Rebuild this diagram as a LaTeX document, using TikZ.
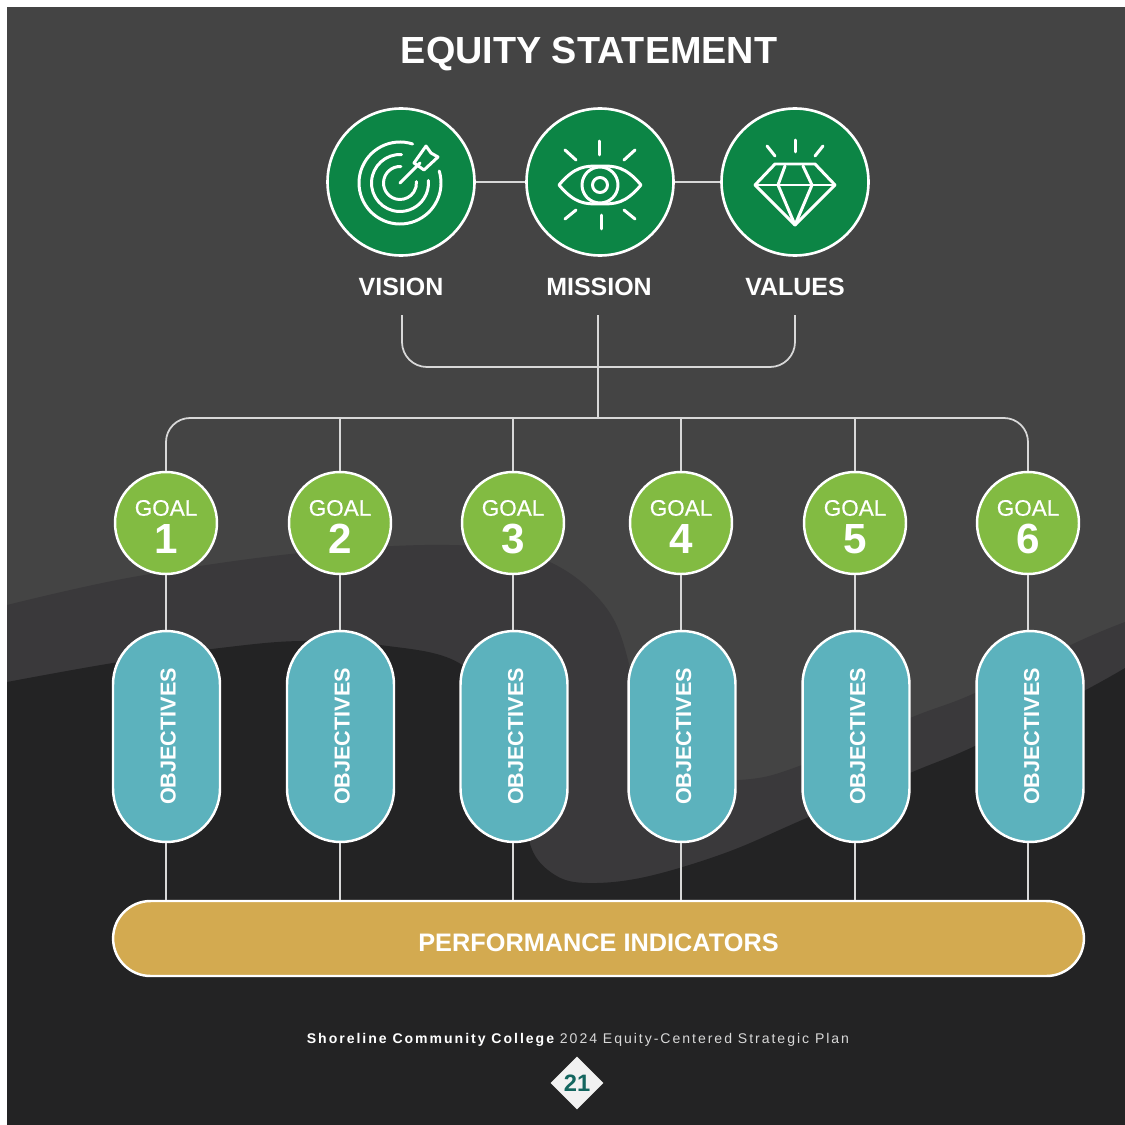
\documentclass[tikz,border=0pt]{standalone}
\usepackage{fontspec}
\setmainfont{Liberation Sans}
\newfontfamily\footfont[LetterSpace=14]{Liberation Sans}
\newfontfamily\goalfont[FakeBold=0.5]{Liberation Sans}
\usetikzlibrary{positioning, shapes.geometric, shapes.misc, calc}
\definecolor{panelgrey}{HTML}{444444}
\definecolor{midgrey}{HTML}{3A393B}
\definecolor{darkgrey}{HTML}{232324}
\definecolor{mygreen}{HTML}{0C8545}
\definecolor{mylime}{HTML}{82BB42}
\definecolor{myteal}{HTML}{5CB2BD}
\definecolor{mygold}{HTML}{D3AA50}
\definecolor{myink}{HTML}{14665F}
\definecolor{myline}{HTML}{D8D8D8}
\tikzset{
    topic/.style={circle,draw=white,line width=1.5pt,fill=mygreen,minimum size=2.94cm,inner sep=0pt},
    toplabel/.style={text=white,font=\fontsize{14.2}{16}\bfseries\selectfont},
    goalnode/.style={circle,draw=white,line width=1.4pt,fill=mylime,minimum size=2.04cm,inner sep=0pt},
    goalword/.style={text=white,font=\goalfont\fontsize{12.8}{14}\selectfont},
    goalnum/.style={text=white,font=\fontsize{24}{26}\bfseries\selectfont},
    objnode/.style={rounded rectangle,rotate=90,draw=white,line width=1.4pt,fill=myteal,minimum width=4.22cm,minimum height=2.14cm,inner sep=0pt,text height=10.5pt,text depth=0pt,text=white,font=\fontsize{12.3}{14}\bfseries\selectfont},
    link/.style={myline,line width=1pt},
    icon/.style={white,line width=1.7pt,line cap=round,line join=round},
}
\begin{document}
\begin{tikzpicture}[x=0.02cm,y=-0.02cm]
    \useasboundingbox (0,0) rectangle (1125,1125);
    \fill[white] (0,0) rectangle (1125,1125);
    \fill[panelgrey] (7,7) rectangle (1125,1125);
    % background swooshes
    \fill[midgrey] plot[smooth,tension=0.6] coordinates {(7,605) (133,577) (300,553) (450,545) (540,558) (600,600) (628,660) (645,775) (739,780) (802,765) (910,718) (975,693) (1075,643) (1125,622)} -- (1125,800) -- (600,900) -- (7,800) -- cycle;
    \fill[darkgrey] plot[smooth,tension=0.6] coordinates {(7,682) (113,663) (220,648) (300,641) (380,645) (459,663) (505,720) (525,790) (531,847) (555,875) (588,883) (645,877) (725,853) (802,820) (910,773) (975,746) (1080,693) (1125,668)} -- (1125,1125) -- (7,1125) -- cycle;
    % title
    \node (title) at (589,54) {\textcolor{white}{\fontsize{21.5}{24}\bfseries\selectfont EQUITY STATEMENT}};
    % top row
    \node[topic] (vision) at (401,182) {};
    \node[topic] (mission) at (600,182) {};
    \node[topic] (values) at (795,182) {};
    \draw[link] (vision) -- (mission);
    \draw[link] (mission) -- (values);
    \node[toplabel] (visionlabel) at (401,287) {VISION};
    \node[toplabel] (missionlabel) at (599,287) {MISSION};
    \node[toplabel] (valueslabel) at (795,287) {VALUES};
    % target icon
    \draw[icon] (400,183)+(-72:41) arc[start angle=-72,end angle=-377,radius=41];
    \draw[icon] (400,183)+(-87:28.5) arc[start angle=-87,end angle=-365,radius=28.5];
    \draw[icon] (400,183)+(-87:16.5) arc[start angle=-87,end angle=-365,radius=16.5];
    \draw[icon] (400,183) -- (420,163);
    \draw[icon] (414,163) -- (426,146) -- (431,153) -- (438,157) -- (424,170) -- cycle;
    % eye icon
    \draw[icon] (559,185) .. controls (575,166) and (585,166) .. (600,166) .. controls (615,166) and (625,166) .. (641,185) .. controls (625,204) and (615,204) .. (600,204) .. controls (585,204) and (575,204) .. (559,185) -- cycle;
    \draw[icon] (600,185) circle[radius=18];
    \draw[icon] (600,185) circle[radius=7.5];
    \draw[icon] (599,141) -- (599,155);
    \draw[icon] (601,215) -- (601,229);
    \draw[icon] (565,150) -- (576,160);
    \draw[icon] (635,150) -- (624,160);
    \draw[icon] (565,219) -- (576,210);
    \draw[icon] (635,219) -- (624,210);
    % gem icon
    \draw[icon] (755,185) -- (775,164) -- (815,164) -- (835,185) -- (795,225) -- cycle;
    \draw[icon] (755,185) -- (835,185);
    \draw[icon] (785,166) -- (778,185) -- (795,225) -- (812,185) -- (803,166);
    \draw[icon] (795,140) -- (795,152);
    \draw[icon] (767,146) -- (775,156);
    \draw[icon] (823,146) -- (815,156);
    % bracket and bus
    \coordinate (busmid) at (598,418);
    \draw[link,rounded corners=0.5cm] (402,315) -- (402,367) -- (795,367) -- (795,315);
    \draw[link] (598,315) -- (busmid);
    % bottom bar
    \node[rounded rectangle,draw=white,line width=1.4pt,fill=mygold,minimum width=19.42cm,minimum height=1.5cm,inner sep=0pt,text height=14.8pt,text depth=0pt,text=white,font=\fontsize{14.4}{16}\bfseries\selectfont] (perf) at (598.5,938.5) {PERFORMANCE INDICATORS};
    % goals and objectives
    \foreach \i/\gx/\ox in {1/166/166.5,2/340/340.5,3/513/514,4/681/682,5/855/856,6/1028/1030} {
        \node[objnode] (obj\i) at (\ox,736.5) {OBJECTIVES};
        \node[goalnode] (goal\i) at (\gx,523) {};
        \node[goalword] (word\i) at ($(goal\i)+(0,-15)$) {GOAL};
        \node[goalnum] (num\i) at ($(goal\i)+(0,16)$) {\i};
        \draw[link] (goal\i.south) -- (goal\i.south |- obj\i.east);
        \draw[link] (goal\i.south |- obj\i.west) -- (goal\i.south |- perf.north);
    }
    \draw[link,rounded corners=0.48cm] (goal1.north) -- (goal1.north |- busmid) -- (goal6.north |- busmid) -- (goal6.north);
    \foreach \i in {2,...,5} {
        \draw[link] (goal\i.north) -- (goal\i.north |- busmid);
    }
    % footer
    \node[text=white,font=\fontsize{8}{9}\selectfont] (foot) at (578,1040) {\footfont{\bfseries Shoreline Community College} \textcolor{myline}{2024 Equity-Centered Strategic Plan}};
    \node[diamond,fill=white!95!black,minimum size=1.06cm,inner sep=0pt,text=myink,font=\fontsize{13.5}{15}\bfseries\selectfont] (page) at (577,1083) {21};
\end{tikzpicture}
\end{document}
